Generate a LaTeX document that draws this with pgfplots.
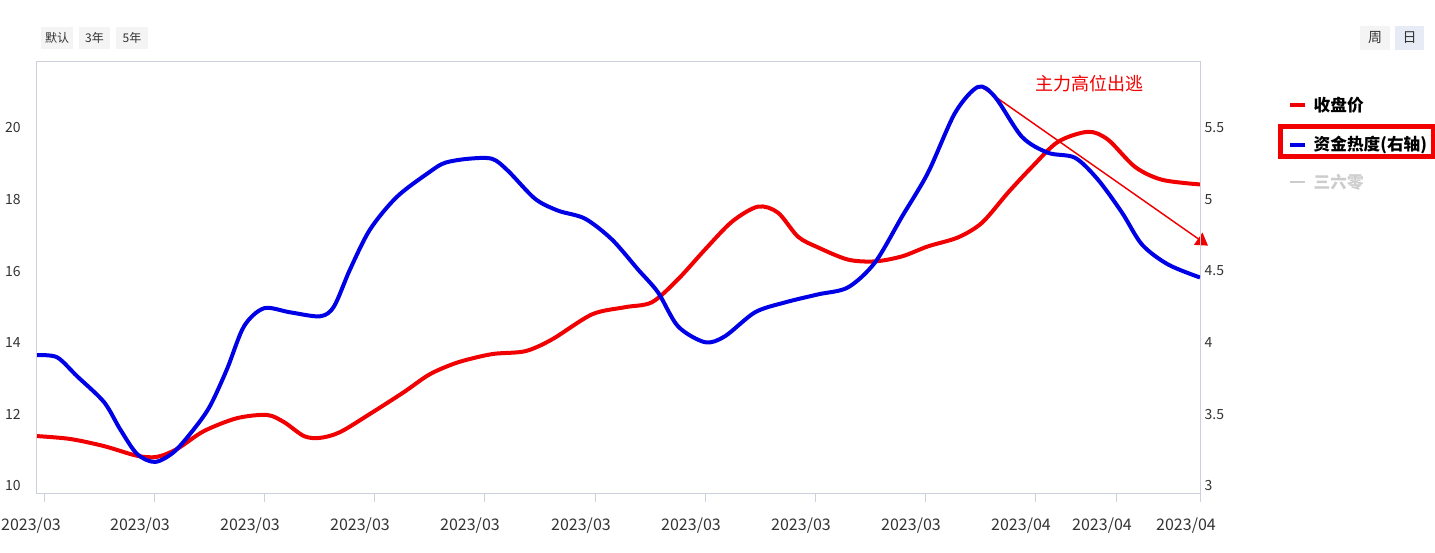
\documentclass[border=0pt]{standalone}
\usepackage{fontspec}
\setmainfont{Noto Sans CJK SC}
\usepackage{pgfplots}
\pgfplotsset{compat=1.18}
\usetikzlibrary{arrows.meta}
\definecolor{axgray}{HTML}{CCD0DA}
\definecolor{txtgray}{HTML}{333333}
\definecolor{btnbg}{HTML}{F4F4F4}
\definecolor{btnblue}{HTML}{E6EBF5}
\definecolor{lgray}{HTML}{CCCCCC}
\definecolor{cred}{HTML}{F00000}
\definecolor{cblue}{HTML}{0000E6}

\pgfplotstableread{
x y
37 11.39
70 11.31
104 11.11
137 10.84
157 10.81
177 11.03
204 11.53
237 11.89
267 11.98
284 11.78
304 11.39
320 11.34
340 11.50
370 12.01
404 12.62
430 13.12
458 13.45
492 13.68
525 13.76
552 14.09
592 14.79
625 14.99
652 15.13
678 15.77
705 16.60
732 17.38
758 17.80
778 17.63
798 16.96
818 16.66
848 16.32
875 16.27
902 16.41
928 16.69
958 16.94
982 17.35
1008 18.19
1032 18.91
1058 19.61
1088 19.89
1108 19.67
1135 18.91
1162 18.55
1200 18.42
}\closeprice

\pgfplotstableread{
x y
37 3.912
57 3.898
77 3.766
104 3.585
120 3.397
137 3.223
155 3.167
174 3.237
194 3.397
210 3.557
227 3.815
244 4.114
264 4.240
290 4.212
320 4.184
334 4.253
350 4.511
370 4.790
397 5.019
430 5.194
445 5.256
468 5.284
492 5.284
508 5.200
535 5.005
558 4.922
585 4.866
612 4.720
638 4.511
658 4.351
678 4.114
705 4.003
725 4.045
755 4.212
785 4.281
818 4.337
848 4.386
875 4.560
902 4.880
928 5.187
955 5.604
978 5.786
995 5.716
1022 5.437
1048 5.326
1075 5.291
1098 5.138
1122 4.908
1142 4.685
1168 4.546
1200 4.455
}\heat

\begin{document}
\begin{tikzpicture}[x=0.75pt,y=0.75pt]
\path[use as bounding box] (0,0) rectangle (1435,553);

% top buttons
\fill[btnbg] (41,504) rectangle (73,526);
\node[text=txtgray,font=\fontsize{9}{10}\selectfont] at (57,515) {默认};
\fill[btnbg] (79,504) rectangle (110,526);
\node[text=txtgray,font=\fontsize{9}{10}\selectfont] at (94.5,515) {3年};
\fill[btnbg] (116,504) rectangle (148,526);
\node[text=txtgray,font=\fontsize{9}{10}\selectfont] at (132,515) {5年};
\fill[btnbg] (1360,503) rectangle (1390,527);
\node[text=txtgray,font=\fontsize{10.5}{12}\selectfont] at (1375,515) {周};
\fill[btnblue] (1395,503) rectangle (1424,527);
\node[text=txtgray,font=\fontsize{10.5}{12}\selectfont] at (1409.5,515) {日};

\begin{axis}[
  at={(27.75pt,45pt)}, anchor=south west,
  width=872.25pt, height=323.25pt, scale only axis,
  xmin=37, xmax=1200, ymin=9.8, ymax=21.84,
  axis line style={axgray, line width=0.75pt},
  xtick={45,154,264,374,484,595,705,815,925,1035,1116,1200},
  xticklabels={2023/03,2023/03,2023/03,2023/03,2023/03,2023/03,2023/03,2023/03,2023/03,2023/04,2023/04,2023/04},
  xtick pos=bottom, tick align=outside,
  major tick length=6.75pt,
  x tick style={axgray, line width=0.75pt},
  xticklabel style={text=txtgray, font=\fontsize{12}{14}\selectfont, xshift=-10.5pt, yshift=-8pt},
  ytick={10,12,14,16,18,20},
  ytick pos=left,
  y tick style={draw=none},
  yticklabel style={text=txtgray, font=\fontsize{10.5}{12}\selectfont, xshift=-2pt},
  /pgf/number format/assume math mode=true,
  clip=false,
]
\addplot[cred, line width=3pt, smooth, tension=0.5] table[x=x,y=y] {\closeprice};
\addplot[cred, line width=1.1pt, -{Triangle[length=9pt,width=11pt]}] coordinates {(980,21.17) (1208,16.71)};
\node[text=cred, font=\fontsize{13.5}{15}\selectfont] at (axis cs:1089,21.23) {主力高位出逃};
\end{axis}

\begin{axis}[
  at={(27.75pt,45pt)}, anchor=south west,
  width=872.25pt, height=323.25pt, scale only axis,
  xmin=37, xmax=1200, ymin=2.95, ymax=5.96,
  axis x line=none, axis y line*=right,
  axis line style={axgray, line width=0.75pt},
  ytick={3,3.5,4,4.5,5,5.5},
  y tick style={draw=none},
  yticklabel style={text=txtgray, font=\fontsize{10.5}{12}\selectfont, xshift=0pt},
  /pgf/number format/assume math mode=true,
]
\addplot[cblue, line width=3pt, smooth, tension=0.5] table[x=x,y=y] {\heat};
\end{axis}

% legend
\draw[cred, line width=3pt] (1290,448) -- (1305,448);
\node[anchor=west, font=\fontsize{12.5}{14}\selectfont\bfseries] at (1309,448) {收盘价};
\draw[cred, line width=3.5pt] (1280.5,396.5) rectangle (1433,426.5);
\draw[cblue, line width=3pt] (1290,408) -- (1305,408);
\node[anchor=west, font=\fontsize{12.5}{14}\selectfont\bfseries] at (1309,408) {资金热度(右轴)};
\draw[lgray, line width=1.5pt] (1290,371) -- (1305,371);
\node[anchor=west, text=lgray, font=\fontsize{12.5}{14}\selectfont\bfseries] at (1309,371) {三六零};
\end{tikzpicture}
\end{document}
